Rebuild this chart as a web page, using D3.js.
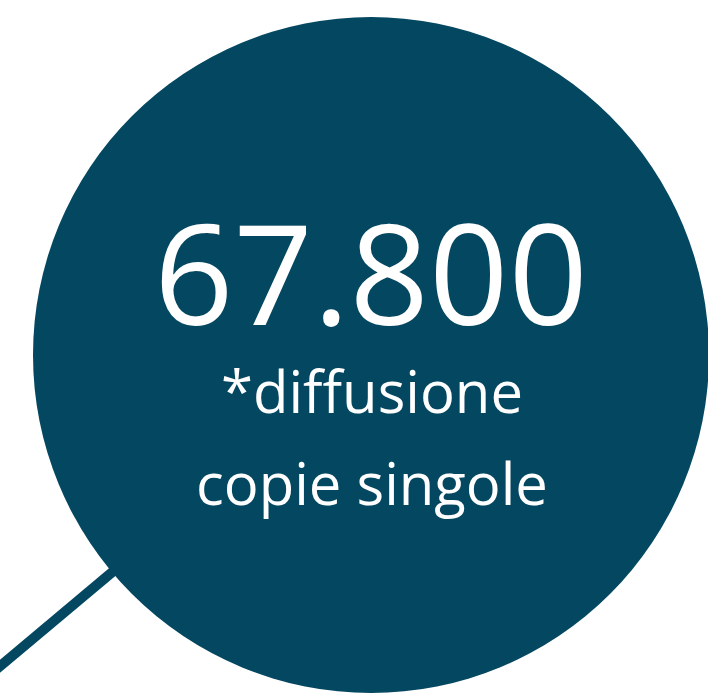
<!DOCTYPE html>
<html>
<head>
<meta charset="utf-8">
<script src="https://cdn.jsdelivr.net/npm/d3@7"></script>
<style>
  html, body { margin: 0; padding: 0; background: #fff; }
  svg { display: block; }
  text { font-family: "Open Sans", sans-serif; fill: #fff; }
</style>
</head>
<body>
<div class="chart"></div>
<script>
// data
var values = [67800];
var labels = ["*diffusione", "copie singole"];
var leaderAngles = [140]; // degrees, screen coords

var width = 708,
    height = 694,
    cx = 371,
    cy = 355,
    maxR = 338,
    color = "#044760";

var it = d3.formatLocale({decimal: ",", thousands: ".", grouping: [3], currency: ["€", ""]});
var fmt = it.format(",");

var r = d3.scaleSqrt()
    .domain([0, d3.max(values)])
    .range([0, maxR]);

var svg = d3.select(".chart").append("svg")
    .attr("width", width)
    .attr("height", height);

// leader line, radial from the bubble
var leader = d3.lineRadial()
    .angle(function(d){ return d.a; })
    .radius(function(d){ return d.r; });

leaderAngles.forEach(function(deg){
  // lineRadial measures angle from 12 o'clock clockwise
  var a = (deg + 90) * Math.PI / 180;
  svg.append("path")
    .attr("transform", "translate(" + cx + "," + cy + ")")
    .attr("d", leader([{a: a, r: r(values[0]) - 20}, {a: a, r: r(values[0]) + 220}]))
    .attr("stroke", color)
    .attr("stroke-width", 10)
    .attr("fill", "none");
});

var g = svg.selectAll(".bubble")
  .data(values)
  .enter().append("g")
    .attr("class", "bubble")
    .attr("transform", "translate(" + cx + "," + cy + ")");

g.append("circle")
  .attr("r", function(d){ return r(d); })
  .attr("fill", color);

g.append("text")
  .attr("text-anchor", "middle")
  .attr("y", -30)
  .style("font-size", "139px")
  .text(function(d){ return fmt(d); });

g.selectAll(".lbl")
  .data(labels)
  .enter().append("text")
    .attr("class", "lbl")
    .attr("text-anchor", "middle")
    .attr("x", 1)
    .attr("y", function(d, i){ return 58 + i * 92; })
    .style("font-size", "58px")
    .text(function(d){ return d; });
</script>
</body>
</html>
